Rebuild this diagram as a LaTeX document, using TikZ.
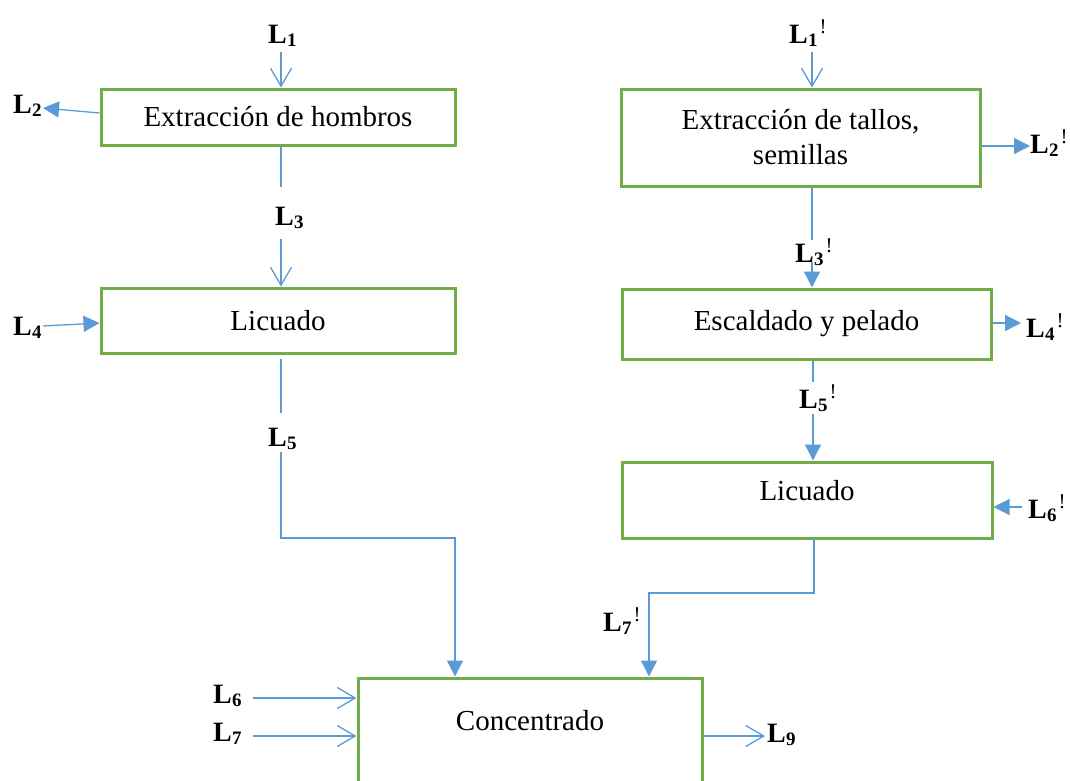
\documentclass[tikz,border=0pt]{standalone}
\usepackage{fontspec}
\setmainfont{Liberation Serif}
\usetikzlibrary{arrows.meta}
\definecolor{boxgreen}{RGB}{112,173,71}
\definecolor{flowblue}{RGB}{91,155,213}
\newcommand{\Lb}[1]{\textbf{L}\kern0.3pt\raisebox{-3pt}{\fontsize{19}{19}\selectfont\bfseries #1}}
\newcommand{\Lp}[1]{\Lb{#1}\kern2pt\raisebox{10pt}{\fontsize{21}{21}\selectfont !}}
\begin{document}
\begin{tikzpicture}[x=1pt,y=-1pt,
 box/.style={draw=boxgreen,line width=3pt,inner sep=0pt,font=\fontsize{29}{35}\selectfont,align=center},
 txt/.style={font=\fontsize{29}{35}\selectfont,align=center,inner sep=0pt},
 lab/.style={font=\fontsize{28}{30}\selectfont,inner sep=0pt,anchor=base west},
 flow/.style={draw=flowblue,line width=1.3pt},
 openh/.style={-{Straight Barb[length=18pt,width=21pt]}},
 fillh/.style={-{Triangle[length=16pt,width=16pt]}}]
\path[use as bounding box, clip] (0,0) rectangle (1070,780);

% boxes
\node[box,minimum width=354pt,minimum height=56pt] (b1) at (278,117) {Extracción de hombros};
\node[box,minimum width=354pt,minimum height=65pt] (b2) at (278,320.5) {Licuado};
\node[box,minimum width=359pt,minimum height=97pt] (b3) at (800.5,137.5) {Extracción de tallos,\\semillas};
\node[box,minimum width=369pt,minimum height=70pt] (b4) at (806.5,324) {Escaldado y pelado};
\node[box,minimum width=370pt,minimum height=76pt] (b5) at (807,500) {};
\node[txt,anchor=base] (t5) at (807,500) {Licuado};
\node[box,minimum width=344pt,minimum height=124pt] (b6) at (530,740) {};
\node[txt,anchor=base] (t6) at (530,730) {Concentrado};

% L1
\node[lab] (L1) at (268,43) {\Lb{1}};
\coordinate (s1) at (281,52);
\draw[flow,openh] (s1) -- (s1 |- b1.north);
% L2
\node[lab] (L2) at (13,113) {\Lb{2}};
\coordinate (e2) at (43,108);
\draw[flow,fillh] ([yshift=4pt]b1.west) -- (e2);
% L3
\node[lab] (L3) at (275,225) {\Lb{3}};
\coordinate (m3a) at (281,187);
\coordinate (m3b) at (281,239);
\draw[flow] (m3a |- b1.south) -- (m3a);
\draw[flow,openh] (m3b) -- (m3b |- b2.north);
% L4
\node[lab] (L4) at (13,335) {\Lb{4}};
\coordinate (s4) at (43,326);
\draw[flow,fillh] (s4) -- ([yshift=-2.5pt]b2.west);
% L5
\node[lab] (L5) at (268,446) {\Lb{5}};
\coordinate (m5o) at (281,359);
\coordinate (m5a) at (281,413);
\coordinate (m5b) at (281,452);
\coordinate (k5) at (281,538);
\coordinate (k5b) at (455,538);
\draw[flow] (m5o) -- (m5a);
\draw[flow,fillh] (m5b) -- (k5) -- (k5b) -- (k5b |- b6.north);
% L6, L7
\node[lab] (L6) at (213,703) {\Lb{6}};
\coordinate (s6) at (253,698);
\draw[flow,openh] (s6) -- (s6 -| b6.west);
\node[lab] (L7) at (213,741) {\Lb{7}};
\coordinate (s7) at (253,736);
\draw[flow,openh] (s7) -- (s7 -| b6.west);
% L9
\coordinate (e9) at (765,736);
\draw[flow,openh] (e9 -| b6.east) -- (e9);
\node[lab] (L9) at (767,742) {\Lb{9}};

% L1'
\node[lab] (L1p) at (789,43) {\Lp{1}};
\coordinate (s1p) at (812,52);
\draw[flow,openh] (s1p) -- (s1p |- b3.north);
% L2'
\coordinate (e2p) at (1030,146);
\draw[flow,fillh] (e2p -| b3.east) -- (e2p);
\node[lab] (L2p) at (1030,153) {\Lp{2}};
% L3'
\node[lab] (L3p) at (795,262) {\Lp{3}};
\coordinate (m3pa) at (812,240);
\coordinate (m3pb) at (812,262);
\draw[flow] (m3pa |- b3.south) -- (m3pa);
\draw[flow,fillh] (m3pb) -- (m3pb |- b4.north);
% L4'
\coordinate (e4p) at (1021,323);
\draw[flow,fillh] (e4p -| b4.east) -- (e4p);
\node[lab] (L4p) at (1026,337) {\Lp{4}};
% L5'
\node[lab] (L5p) at (799,408) {\Lp{5}};
\coordinate (m5pa) at (813,382);
\coordinate (m5pb) at (813,414);
\draw[flow] (m5pa |- b4.south) -- (m5pa);
\draw[flow,fillh] (m5pb) -- (m5pb |- b5.north);
% L6'
\coordinate (s6p) at (1022,507);
\draw[flow,fillh] (s6p) -- (s6p -| b5.east);
\node[lab] (L6p) at (1028,518) {\Lp{6}};
% L7'
\coordinate (k7a) at (814,593);
\coordinate (k7b) at (649,593);
\draw[flow,fillh] (k7a |- b5.south) -- (k7a) -- (k7b) -- (k7b |- b6.north);
\node[lab] (L7p) at (603,631) {\Lp{7}};
\end{tikzpicture}
\end{document}
